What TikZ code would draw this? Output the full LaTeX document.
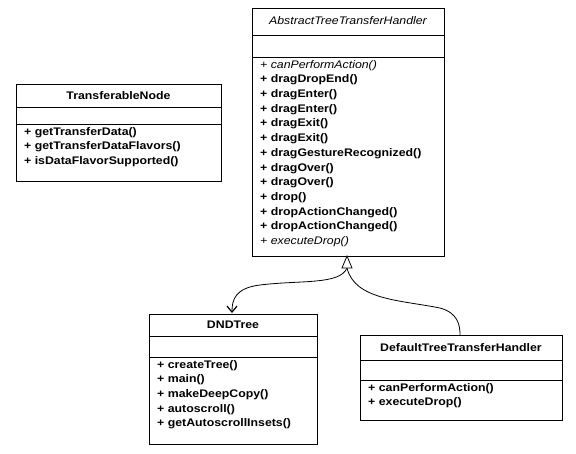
\documentclass[tikz,border=0pt]{standalone}
\usepackage{fontspec}
\setmainfont{Liberation Sans}[FakeStretch=1.12]
\usetikzlibrary{arrows.meta}
\begin{document}
\begin{tikzpicture}[x=1pt,y=-1pt,
 box/.style={draw,fill=white,line width=0.8pt},
 txt/.style={anchor=north west,inner sep=0pt,font=\fontsize{11}{14.7}\selectfont\bfseries,align=left},
 ttl/.style={anchor=center,inner sep=0pt,font=\fontsize{11}{12}\selectfont\bfseries}]
\useasboundingbox (0,0) rectangle (576,453);
% TransferableNode
\draw[box] (16,84) rectangle (221,181);
\draw (16,107) -- (221,107) (16,124) -- (221,124);
\node[ttl] (tn) at (118.5,95.5) {TransferableNode};
\node[txt] (tnm) at (24,127) {+ getTransferData()\\+ getTransferDataFlavors()\\+ isDataFlavorSupported()};
% Abstract
\draw[box] (252,8) rectangle (444,256);
\draw (252,35) -- (444,35) (252,57) -- (444,57);
\node[ttl,font=\fontsize{11}{12}\selectfont\itshape] (ab) at (348,21) {AbstractTreeTransferHandler};
\node[txt] (abm) at (260,60) {{\mdseries\itshape + canPerformAction()}\\+ dragDropEnd()\\+ dragEnter()\\+ dragEnter()\\+ dragExit()\\+ dragExit()\\+ dragGestureRecognized()\\+ dragOver()\\+ dragOver()\\+ drop()\\+ dropActionChanged()\\+ dropActionChanged()\\{\mdseries\itshape + executeDrop()}};
% DNDTree
\draw[box] (149,314) rectangle (317,444);
\draw (149,336) -- (317,336) (149,357) -- (317,357);
\node[ttl] (dt) at (233,325) {DNDTree};
\node[txt] (dtm) at (157,360) {+ createTree()\\+ main()\\+ makeDeepCopy()\\+ autoscroll()\\+ getAutoscrollInsets()};
% Default
\draw[box] (360,335) rectangle (562,420);
\draw (360,360) -- (562,360) (360,380) -- (562,380);
\node[ttl] (df) at (461,347.5) {DefaultTreeTransferHandler};
\node[txt] (dfm) at (368,383) {+ canPerformAction()\\+ executeDrop()};
% connectors
\coordinate (abb) at (347,256);
\coordinate (dtt) at (232,313);
\coordinate (dft) at (460,335);
\draw[line width=0.8pt,-{Straight Barb[length=6pt,width=10pt,line width=1.2pt]}] (347,268) .. controls (340,285) and (300,280) .. (260,285) .. controls (235,288) and (232,300) .. (dtt);
\draw[line width=0.8pt] (347,268) .. controls (355,300) and (400,300) .. (440,308) .. controls (458,313) and (460,325) .. (dft);
\draw[line width=0.8pt,fill=white] (abb) -- (342,268) -- (352,268) -- cycle;
\end{tikzpicture}
\end{document}
